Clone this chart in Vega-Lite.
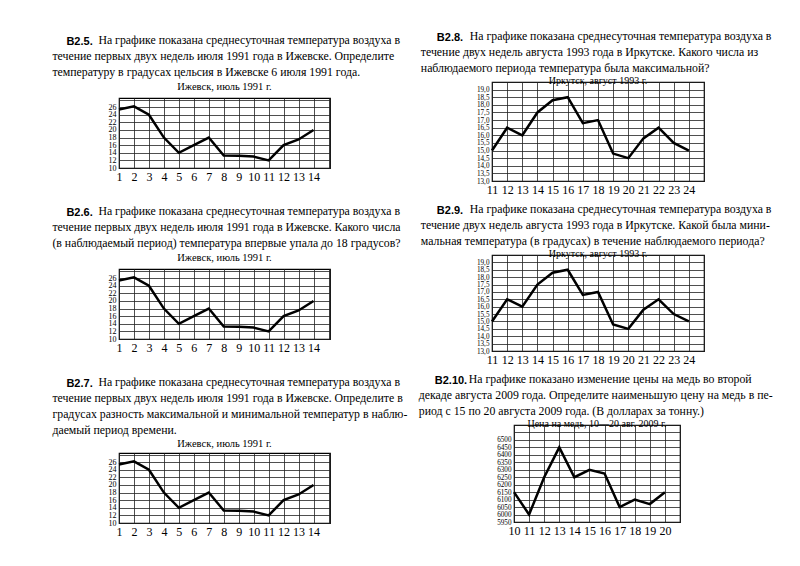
{
  "$schema": "https://vega.github.io/schema/vega-lite/v6.json",
  "background": "white",
  "padding": {"left": 52, "top": 0, "right": 5, "bottom": 5},
  "datasets": {
    "izh": [
      {"day": 1, "t": 25.4}, {"day": 2, "t": 26.2}, {"day": 3, "t": 24}, {"day": 4, "t": 18},
      {"day": 5, "t": 14}, {"day": 6, "t": 16}, {"day": 7, "t": 18}, {"day": 8, "t": 13.3},
      {"day": 9, "t": 13.2}, {"day": 10, "t": 13}, {"day": 11, "t": 12}, {"day": 12, "t": 16},
      {"day": 13, "t": 17.5}, {"day": 14, "t": 20}
    ],
    "irk": [
      {"day": 11, "t": 15.0}, {"day": 12, "t": 16.5}, {"day": 13, "t": 16.0}, {"day": 14, "t": 17.5},
      {"day": 15, "t": 18.3}, {"day": 16, "t": 18.5}, {"day": 17, "t": 16.8}, {"day": 18, "t": 17.0},
      {"day": 19, "t": 14.8}, {"day": 20, "t": 14.5}, {"day": 21, "t": 15.8}, {"day": 22, "t": 16.5},
      {"day": 23, "t": 15.5}, {"day": 24, "t": 15.0}
    ],
    "cu": [
      {"day": 10, "p": 6150}, {"day": 11, "p": 6000}, {"day": 12, "p": 6250}, {"day": 13, "p": 6450},
      {"day": 14, "p": 6250}, {"day": 15, "p": 6300}, {"day": 16, "p": 6275}, {"day": 17, "p": 6050},
      {"day": 18, "p": 6100}, {"day": 19, "p": 6070}, {"day": 20, "p": 6150}
    ],
    "blank": [{"a": 0}]
  },
  "config": {
    "view": {"stroke": "black", "strokeWidth": 1.2},
    "axis": {"domain": false, "ticks": false, "grid": true, "gridColor": "#222", "gridOpacity": 1, "gridWidth": 0.8, "labelFont": "Liberation Serif", "labelColor": "black"},
    "axisX": {"labelFontSize": 12, "labelPadding": 3, "labelFlush": false, "labelOverlap": false, "labelBound": false},
    "axisY": {"labelFontSize": 8, "labelPadding": 3, "labelOverlap": false, "labelBound": false},
    "title": {"font": "Liberation Serif", "fontWeight": "normal", "color": "black", "fontSize": 11.8},
    "line": {"color": "black", "strokeWidth": 2.5}
  },
  "spacing": 10,
  "hconcat": [
    {
      "spacing": 22,
      "vconcat": [
        {"width": 1, "height": 12, "view": {"stroke": null}, "data": {"name": "blank"}, "mark": {"type": "point", "opacity": 0}, "encoding": {}},
        {
          "title": {"text": "В2.5.", "anchor": "start", "font": "Liberation Sans", "fontWeight": "bold", "fontSize": 11, "dx": 14, "offset": -12},
          "vconcat": [{
            "title": {"text": "На графике показана среднесуточная температура воздуха в", "anchor": "start", "dx": 46, "offset": 4},
            "vconcat": [{
              "title": {"text": ["течение первых двух недель июля 1991 года в Ижевске. Определите", "температуру в градусах цельсия в Ижевске 6 июля 1991 года."], "anchor": "start", "lineHeight": 16, "dx": -55, "offset": 3},
              "vconcat": [{
                "title": {"text": "Ижевск, июль 1991 г.", "anchor": "middle", "fontSize": 10.5, "offset": 3},
                "width": 211, "height": 70,
                "data": {"name": "izh"},
                "mark": "line",
                "encoding": {
                  "x": {"field": "day", "type": "quantitative", "title": null, "scale": {"domain": [1, 15.1], "nice": false, "zero": false}, "axis": {"values": [1,2,3,4,5,6,7,8,9,10,11,12,13,14,15], "labelExpr": "datum.value > 14 ? '' : datum.label"}},
                  "y": {"field": "t", "type": "quantitative", "title": null, "scale": {"domain": [10, 28.4], "nice": false, "zero": false}, "axis": {"values": [10,12,14,16,18,20,22,24,26,28], "labelExpr": "datum.value > 26 ? '' : datum.label"}}
                }
              }]
            }]
          }]
        },
        {
          "title": {"text": "В2.6.", "anchor": "start", "font": "Liberation Sans", "fontWeight": "bold", "fontSize": 11, "dx": 14, "offset": -12},
          "vconcat": [{
            "title": {"text": "На графике показана среднесуточная температура воздуха в", "anchor": "start", "dx": 46, "offset": 4},
            "vconcat": [{
              "title": {"text": ["течение первых двух недель июля 1991 года в Ижевске. Какого числа", "(в наблюдаемый период) температура впервые упала до 18 градусов?"], "anchor": "start", "lineHeight": 16, "dx": -55, "offset": 3},
              "vconcat": [{
                "title": {"text": "Ижевск, июль 1991 г.", "anchor": "middle", "fontSize": 10.5, "offset": 3},
                "width": 211, "height": 70,
                "data": {"name": "izh"},
                "mark": "line",
                "encoding": {
                  "x": {"field": "day", "type": "quantitative", "title": null, "scale": {"domain": [1, 15.1], "nice": false, "zero": false}, "axis": {"values": [1,2,3,4,5,6,7,8,9,10,11,12,13,14,15], "labelExpr": "datum.value > 14 ? '' : datum.label"}},
                  "y": {"field": "t", "type": "quantitative", "title": null, "scale": {"domain": [10, 28.4], "nice": false, "zero": false}, "axis": {"values": [10,12,14,16,18,20,22,24,26,28], "labelExpr": "datum.value > 26 ? '' : datum.label"}}
                }
              }]
            }]
          }]
        },
        {
          "title": {"text": "В2.7.", "anchor": "start", "font": "Liberation Sans", "fontWeight": "bold", "fontSize": 11, "dx": 14, "offset": -12},
          "vconcat": [{
            "title": {"text": "На графике показана среднесуточная температура воздуха в", "anchor": "start", "dx": 46, "offset": 4},
            "vconcat": [{
              "title": {"text": ["течение первых двух недель июля 1991 года в Ижевске. Определите в", "градусах разность максимальной и минимальной температур в наблю-", "даемый период времени."], "anchor": "start", "lineHeight": 16, "dx": -55, "offset": 2},
              "vconcat": [{
                "title": {"text": "Ижевск, июль 1991 г.", "anchor": "middle", "fontSize": 10.5, "offset": 1},
                "width": 211, "height": 70,
                "data": {"name": "izh"},
                "mark": "line",
                "encoding": {
                  "x": {"field": "day", "type": "quantitative", "title": null, "scale": {"domain": [1, 15.1], "nice": false, "zero": false}, "axis": {"values": [1,2,3,4,5,6,7,8,9,10,11,12,13,14,15], "labelExpr": "datum.value > 14 ? '' : datum.label"}},
                  "y": {"field": "t", "type": "quantitative", "title": null, "scale": {"domain": [10, 28.4], "nice": false, "zero": false}, "axis": {"values": [10,12,14,16,18,20,22,24,26,28], "labelExpr": "datum.value > 26 ? '' : datum.label"}}
                }
              }]
            }]
          }]
        }
      ]
    },
    {
      "spacing": 7,
      "vconcat": [
        {"width": 1, "height": 23, "view": {"stroke": null}, "data": {"name": "blank"}, "mark": {"type": "point", "opacity": 0}, "encoding": {}},
        {
          "title": {"text": "В2.8.", "anchor": "start", "font": "Liberation Sans", "fontWeight": "bold", "fontSize": 11, "dx": 16, "offset": -12},
          "vconcat": [{
            "title": {"text": "На графике показана среднесуточная температура воздуха в", "anchor": "start", "dx": 49, "offset": 4},
            "vconcat": [{
              "title": {"text": ["течение двух недель августа 1993 года в Иркутске. Какого числа из", "наблюдаемого периода температура была максимальной?"], "anchor": "start", "lineHeight": 16, "dx": -55, "offset": 1},
              "vconcat": [{
                "title": {"text": "Иркутск, август 1993 г.", "anchor": "middle", "fontSize": 10, "offset": -8},
                "width": 212, "height": 99,
                "data": {"name": "irk"},
                "mark": "line",
                "encoding": {
                  "x": {"field": "day", "type": "quantitative", "title": null, "scale": {"domain": [11, 25], "nice": false, "zero": false}, "axis": {"values": [11,12,13,14,15,16,17,18,19,20,21,22,23,24,25], "labelExpr": "datum.value > 24 ? '' : datum.label"}},
                  "y": {"field": "t", "type": "quantitative", "title": null, "scale": {"domain": [13, 19.5], "nice": false, "zero": false}, "axis": {"labelFontSize": 7.2, "values": [13,13.5,14,14.5,15,15.5,16,16.5,17,17.5,18,18.5,19,19.5], "labelExpr": "datum.value > 19 ? '' : replace(format(datum.value, '.1f'), '.', ',')"}}
                }
              }]
            }]
          }]
        },
        {
          "title": {"text": "В2.9.", "anchor": "start", "font": "Liberation Sans", "fontWeight": "bold", "fontSize": 11, "dx": 16, "offset": -12},
          "vconcat": [{
            "title": {"text": "На графике показана среднесуточная температура воздуха в", "anchor": "start", "dx": 49, "offset": 4},
            "vconcat": [{
              "title": {"text": ["течение двух недель августа 1993 года в Иркутске. Какой была мини-", "мальная температура (в градусах) в течение наблюдаемого периода?"], "anchor": "start", "lineHeight": 16, "dx": -55, "offset": 1},
              "vconcat": [{
                "title": {"text": "Иркутск, август 1993 г.", "anchor": "middle", "fontSize": 10, "offset": -8},
                "width": 212, "height": 96,
                "data": {"name": "irk"},
                "mark": "line",
                "encoding": {
                  "x": {"field": "day", "type": "quantitative", "title": null, "scale": {"domain": [11, 25], "nice": false, "zero": false}, "axis": {"values": [11,12,13,14,15,16,17,18,19,20,21,22,23,24,25], "labelExpr": "datum.value > 24 ? '' : datum.label"}},
                  "y": {"field": "t", "type": "quantitative", "title": null, "scale": {"domain": [13, 19.5], "nice": false, "zero": false}, "axis": {"labelFontSize": 7.2, "values": [13,13.5,14,14.5,15,15.5,16,16.5,17,17.5,18,18.5,19,19.5], "labelExpr": "datum.value > 19 ? '' : replace(format(datum.value, '.1f'), '.', ',')"}}
                }
              }]
            }]
          }]
        },
        {
          "title": {"text": "В2.10.", "anchor": "start", "font": "Liberation Sans", "fontWeight": "bold", "fontSize": 11, "dx": 16, "offset": -12},
          "vconcat": [{
            "title": {"text": "На графике показано изменение цены на медь во второй", "anchor": "start", "dx": 50, "offset": 4},
            "vconcat": [{
              "title": {"text": ["декаде августа 2009 года. Определите наименьшую цену на медь в пе-", "риод с 15 по 20 августа 2009 года. (В долларах за тонну.)"], "anchor": "start", "lineHeight": 16, "dx": -71, "offset": 1},
              "spacing": 0,
              "hconcat": [
                {"width": 1, "height": 1, "view": {"stroke": null}, "data": {"name": "blank"}, "mark": {"type": "point", "opacity": 0}, "encoding": {}},
                {
                  "title": {"text": "Цена на медь, 10—20 авг. 2009 г.", "anchor": "middle", "fontSize": 10, "offset": -8},
                  "width": 166, "height": 97,
                  "data": {"name": "cu"},
                  "mark": "line",
                  "encoding": {
                    "x": {"field": "day", "type": "quantitative", "title": null, "scale": {"domain": [10, 21], "nice": false, "zero": false}, "axis": {"values": [10,11,12,13,14,15,16,17,18,19,20,21], "labelExpr": "datum.value > 20 ? '' : datum.label"}},
                    "y": {"field": "p", "type": "quantitative", "title": null, "scale": {"domain": [5950, 6600], "nice": false, "zero": false}, "axis": {"labelFontSize": 7.2, "format": "d", "values": [5950,6000,6050,6100,6150,6200,6250,6300,6350,6400,6450,6500,6550,6600], "labelExpr": "datum.value > 6500 ? '' : datum.label"}}
                  }
                }
              ]
            }]
          }]
        }
      ]
    }
  ]
}
